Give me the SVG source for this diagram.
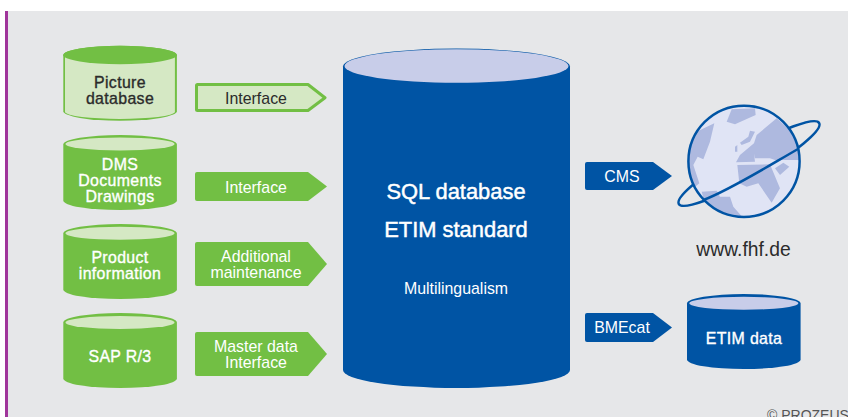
<svg xmlns="http://www.w3.org/2000/svg" width="848" height="417" viewBox="0 0 848 417">
<style>
text{font-family:"Liberation Sans",Arial,sans-serif;text-anchor:middle}
.g{fill:#72bf44}.l{fill:#d5e8c4}.b{fill:#0054a4}.c{fill:#c8cde9}
.t15{font-size:15.900px;letter-spacing:.35px;fill:#fff;stroke:#fff;stroke-width:.35px}
.d15{font-size:15.900px;letter-spacing:.35px;fill:#2b2b2b;stroke:#2b2b2b;stroke-width:.35px}
.t21{font-size:21.900px;fill:#fff;stroke:#fff;stroke-width:.45px}
.t16{font-size:15.900px;fill:#fff}
.land{fill:#aeb9df}
</style>
<defs>
<path id="cyl" d="M0,9.5A56.800,9.500 0 0 1 113.600,9.500V65.500A56.800,9.500 0 0 1 0,65.500Z"/>
<clipPath id="gc"><circle cx="744" cy="161.300" r="55.600"/></clipPath>
</defs>
<rect width="848" height="417" fill="#fff"/>
<rect x="5" y="11" width="843" height="406" fill="#e6e7e9"/>
<rect x="5" y="11" width="3" height="406" fill="#a0359b"/>

<g id="connectors">
<g id="arrow-interface-1">
<path d="M196.500,85.500Q196.500,84.500 197.500,84.500H308L325,97.700L308,110.500H197.500Q196.500,110.500 196.500,109.500Z" class="l" stroke="#72bf44" stroke-width="3" stroke-linejoin="round"/>
<text x="256" y="104" font-size="15.900" fill="#2b2b2b">Interface</text>
</g>
<g id="arrow-interface-2">
<path d="M195,174Q195,172 197,172H308L327,186.500L308,201H197Q195,201 195,199Z" class="g"/>
<text class="t16" x="256" y="193">Interface</text>
</g>
<g id="arrow-maintenance">
<path d="M195,244Q195,242 197,242H308L327,264L308,286H197Q195,286 195,284Z" class="g"/>
<text class="t16" x="256" y="262">Additional</text>
<text class="t16" x="256" y="278">maintenance</text>
</g>
<g id="arrow-master">
<path d="M195,334Q195,332 197,332H308L327,354L308,376H197Q195,376 195,374Z" class="g"/>
<text class="t16" x="256" y="352">Master data</text>
<text class="t16" x="256" y="368">Interface</text>
</g>
<g id="arrow-cms">
<path d="M585,164Q585,162 587,162H653L672,176L653,190H587Q585,190 585,188Z" class="b"/>
<text class="t16" x="622" y="182">CMS</text>
</g>
<g id="arrow-bmecat">
<path d="M585,315Q585,313 587,313H653L672,327.500L653,342H587Q585,342 585,340Z" class="b"/>
<text class="t16" x="622" y="333">BMEcat</text>
</g>
</g>

<g id="node-picture-database">
<use href="#cyl" x="63.300" y="45.700" class="g"/>
<path d="M65,55V112A55,7.200 0 0 0 174.900,112V55Z" class="l"/>
<ellipse cx="120" cy="55" rx="56.800" ry="9.300" class="g"/>
<text class="d15" x="120" y="88">Picture</text>
<text class="d15" x="120" y="104">database</text>
</g>
<g id="node-dms">
<use href="#cyl" x="63.300" y="135" class="g"/>
<ellipse cx="120" cy="144" rx="54.500" ry="6.500" class="l"/>
<text class="t15" x="120" y="170">DMS</text>
<text class="t15" x="120" y="186">Documents</text>
<text class="t15" x="120" y="202">Drawings</text>
</g>
<g id="node-product">
<use href="#cyl" x="63.300" y="224" class="g"/>
<ellipse cx="120" cy="233.300" rx="54.500" ry="6.500" class="l"/>
<text class="t15" x="120" y="263">Product</text>
<text class="t15" x="120" y="279">information</text>
</g>
<g id="node-sap">
<use href="#cyl" x="63.300" y="313" class="g"/>
<ellipse cx="120" cy="322.500" rx="54.500" ry="6.500" class="l"/>
<text class="t15" x="120" y="362">SAP R/3</text>
</g>

<g id="node-sql">
<path d="M343,66.500A113.500,18 0 0 1 570,66.500V370A113.500,18 0 0 1 343,370Z" class="b"/>
<ellipse cx="456.500" cy="66" rx="112" ry="16.800" class="c"/>
<text class="t21" x="456" y="199">SQL database</text>
<text class="t21" x="456" y="237">ETIM standard</text>
<text class="t16" x="456" y="294">Multilingualism</text>
</g>

<g id="node-globe">
<ellipse cx="749" cy="163.500" rx="81" ry="14" transform="rotate(-30 749 163.500)" fill="none" stroke="#0054a4" stroke-width="2.500"/>
<circle cx="744" cy="161.300" r="55.600" fill="#e0e4f5"/>
<g clip-path="url(#gc)">
<g transform="translate(660 100) scale(.3333)" class="land">
<path d="M215,28L285,25L287,45L225,73L200,65Z"/>
<path d="M163,70L150,125L130,178L113,170L100,195L118,250L100,265L75,190L100,100Z"/>
<path d="M350,55L400,100L425,180L345,180L330,175L285,175L282,160L285,185L228,187L240,165L282,130L290,105Z"/>
<path d="M270,92L285,95L270,125L245,135L240,128L265,110Z"/>
<path d="M225,140L232,135L232,155L225,155Z"/>
<path d="M232,195L330,193L360,265L335,308L295,250L260,260L238,250Z"/>
<path d="M345,205L370,188L388,200L360,225Z"/>
<path d="M125,275L170,272L180,290L210,290L220,320L255,360L140,330Z"/>
</g>
</g>
<circle cx="744" cy="161.300" r="55.600" fill="none" stroke="#0054a4" stroke-width="2.500"/>
<path d="M703.500,200C730,190 770,165 798,149" fill="none" stroke="#0054a4" stroke-width="2.500"/>
<text x="743.500" y="256" font-size="19.300" fill="#2b2b2b">www.fhf.de</text>
</g>

<g id="node-etim">
<use href="#cyl" x="687" y="294" class="b"/>
<ellipse cx="743.800" cy="303.300" rx="54.500" ry="6.500" class="c"/>
<text class="t15" x="744" y="344">ETIM data</text>
</g>

<text x="767" y="420" font-size="14" fill="#555" style="text-anchor:start">© PROZEUS</text>
</svg>
